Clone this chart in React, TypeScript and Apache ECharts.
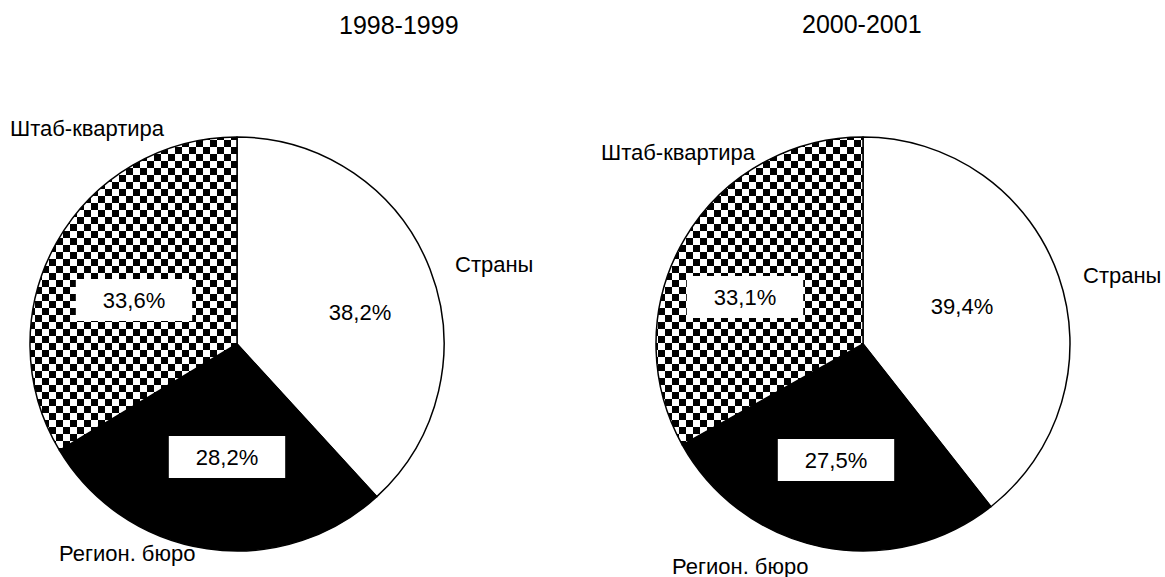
import React, { useEffect, useRef } from 'react';
import * as echarts from 'echarts';

const periods = ['1998-1999', '2000-2001'];
const categories = ['Страны', 'Регион. бюро', 'Штаб-квартира'];
const values1998 = [38.2, 28.2, 33.6];
const values2000 = [39.4, 27.5, 33.1];
const seriesValues = [values1998, values2000];

// layout (positions only)
const pieCenters = [[237, 344], [863, 344]];
const pieRadius = 207;
const titlePos = [[339, 12], [802, 11]];
const innerLabelPos = [
  [[360, 312], [227, 457], [134, 300]],
  [[962, 306], [836, 460], [745, 297]],
];
const outerLabelPos = [
  [[455, 264], [59, 553], [10, 128]],
  [[1083, 275], [672, 566], [601, 152]],
];

const fmt = (v: number) => v.toFixed(1).replace('.', ',') + '%';

function makeChecker(): HTMLCanvasElement {
  const c = document.createElement('canvas');
  const s = 7;
  c.width = s * 2;
  c.height = s * 2;
  const ctx = c.getContext('2d')!;
  ctx.fillStyle = '#fff';
  ctx.fillRect(0, 0, s * 2, s * 2);
  ctx.fillStyle = '#000';
  ctx.fillRect(0, 0, s, s);
  ctx.fillRect(s, s, s, s);
  return c;
}

export default function App() {
  const ref = useRef<HTMLDivElement>(null);
  useEffect(() => {
    document.body.style.margin = '0';
    const chart = echarts.init(ref.current!, null, { renderer: 'svg' });
    const checker = makeChecker();
    const colors: any[] = [
      '#ffffff',
      '#000000',
      { image: checker, repeat: 'repeat', imageWidth: 14, imageHeight: 14 },
    ];
    const font = '"Liberation Sans", Arial, sans-serif';
    const series: any[] = [];
    seriesValues.forEach((vals, pi) => {
      const data = categories.map((name, i) => ({
        name,
        value: vals[i],
        itemStyle: { color: colors[i] },
      }));
      series.push({
        type: 'pie',
        center: pieCenters[pi],
        radius: pieRadius,
        startAngle: 90,
        clockwise: true,
        avoidLabelOverlap: false,
        silent: true,
        itemStyle: { borderColor: '#000', borderWidth: 1.5 },
        emphasis: { disabled: true },
        label: {
          show: true,
          position: 'inside',
          formatter: (p: any) => fmt(p.value),
          fontFamily: font,
          fontSize: 22,
          color: '#000',
          backgroundColor: '#fff',
          padding: [10, 27],
        },
        labelLine: { show: false },
        labelLayout: (p: any) => ({
          x: innerLabelPos[pi][p.dataIndex][0],
          y: innerLabelPos[pi][p.dataIndex][1],
          align: 'center',
          verticalAlign: 'middle',
        }),
        data,
      });
      series.push({
        type: 'pie',
        center: pieCenters[pi],
        radius: pieRadius,
        startAngle: 90,
        clockwise: true,
        avoidLabelOverlap: false,
        silent: true,
        itemStyle: { color: 'rgba(0,0,0,0)', borderWidth: 0 },
        emphasis: { disabled: true },
        label: {
          show: true,
          position: 'outside',
          formatter: '{b}',
          fontFamily: font,
          fontSize: 22,
          color: '#000',
        },
        labelLine: { show: false },
        labelLayout: (p: any) => ({
          x: outerLabelPos[pi][p.dataIndex][0],
          y: outerLabelPos[pi][p.dataIndex][1],
          align: 'left',
          verticalAlign: 'middle',
        }),
        data: categories.map((name, i) => ({ name, value: vals[i] })),
      });
    });
    chart.setOption({
      animation: false,
      backgroundColor: '#fff',
      title: periods.map((t, i) => ({
        text: t,
        left: titlePos[i][0],
        top: titlePos[i][1],
        padding: 0,
        textStyle: { fontFamily: font, fontSize: 25, fontWeight: 'normal', color: '#000' },
      })),
      series,
    });
    return () => chart.dispose();
  }, []);
  return <div ref={ref} style={{ width: 1165, height: 577 }} />;
}
